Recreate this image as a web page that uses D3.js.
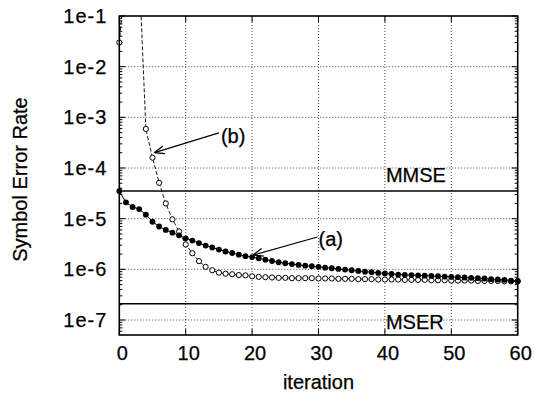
<!DOCTYPE html>
<meta charset="utf-8">
<style>
body { margin: 0; background: #fff; }
text { font-family: "Liberation Sans", Arial, Helvetica, sans-serif; fill: #000; stroke: #000; stroke-width: 0.25px; }
.grid line { stroke: #333; stroke-width: 0.9; stroke-dasharray: 1,2; }
.tick-line { stroke: #000; stroke-width: 1; }
</style>
<svg width="534" height="400"></svg>
<script src="https://d3js.org/d3.v7.min.js"></script>
<script>

// ---- data ----
var xTicks = [0, 10, 20, 30, 40, 50, 60];
var yTicks = [1e-1, 1e-2, 1e-3, 1e-4, 1e-5, 1e-6, 1e-7];
var yTickLabels = ["1e-1", "1e-2", "1e-3", "1e-4", "1e-5", "1e-6", "1e-7"];

var mmseLevel = 3.5e-5;
var mserLevel = 2.1e-7;

// (a) filled circles, iterations 0..60
var serA = [
  3.5e-5, 2.1e-5, 1.7e-5, 1.55e-5, 1.2e-5, 8.7e-6, 7.0e-6, 6.0e-6, 5.3e-6, 4.7e-6,
  4.1e-6, 3.7e-6, 3.3e-6, 2.95e-6, 2.7e-6, 2.45e-6, 2.25e-6, 2.1e-6, 1.95e-6, 1.82e-6,
  1.75e-6, 1.65e-6, 1.55e-6, 1.46e-6, 1.38e-6, 1.32e-6, 1.27e-6, 1.22e-6, 1.18e-6, 1.15e-6,
  1.12e-6, 1.08e-6, 1.05e-6, 1.02e-6, 9.9e-7, 9.6e-7, 9.3e-7, 9.0e-7, 8.8e-7, 8.5e-7,
  8.3e-7, 8.1e-7, 7.9e-7, 7.8e-7, 7.7e-7, 7.6e-7, 7.5e-7, 7.4e-7, 7.3e-7, 7.2e-7,
  7.1e-7, 7.0e-7, 6.9e-7, 6.8e-7, 6.7e-7, 6.6e-7, 6.4e-7, 6.3e-7, 6.2e-7, 6.0e-7,
  5.9e-7
];

// (b) open circles, iterations 0..60 (1-3 run off the top)
var serB = [
  3.0e-2, 0.8, 0.8, 0.8, 5.9e-4, 1.6e-4, 5.1e-5, 2.0e-5, 9.7e-6, 5.6e-6,
  3.1e-6, 2.08e-6, 1.45e-6, 1.12e-6, 9.6e-7, 8.6e-7, 8.2e-7, 8.0e-7, 7.7e-7, 7.6e-7,
  7.3e-7, 7.1e-7, 7.0e-7, 6.9e-7, 6.8e-7, 6.8e-7, 6.7e-7, 6.7e-7, 6.7e-7, 6.7e-7,
  6.6e-7, 6.6e-7, 6.6e-7, 6.5e-7, 6.5e-7, 6.5e-7, 6.4e-7, 6.4e-7, 6.4e-7, 6.3e-7,
  6.3e-7, 6.3e-7, 6.3e-7, 6.2e-7, 6.2e-7, 6.2e-7, 6.2e-7, 6.1e-7, 6.1e-7, 6.1e-7,
  6.0e-7, 6.0e-7, 6.0e-7, 6.0e-7, 5.9e-7, 5.9e-7, 5.9e-7, 5.9e-7, 5.8e-7, 5.8e-7,
  5.8e-7
];

// ---- layout ----
var svg = d3.select("svg"),
    margin = {top: 16, right: 16.3, bottom: 65, left: 119.3},
    width = +svg.attr("width") - margin.left - margin.right,
    height = +svg.attr("height") - margin.top - margin.bottom;

var g = svg.append("g")
    .attr("transform", "translate(" + margin.left + "," + margin.top + ")");

var x = d3.scaleLinear().domain([0, 60]).range([0, width]);
var y = d3.scaleLog().domain([5.06e-8, 1e-1]).range([height, 0]);

svg.append("defs").append("clipPath")
    .attr("id", "plot")
  .append("rect")
    .attr("x", -4)
    .attr("width", width + 8)
    .attr("height", height);

// arrow head (open V)
svg.select("defs").append("marker")
    .attr("id", "arrow")
    .attr("viewBox", "0 0 10 10")
    .attr("refX", 10)
    .attr("refY", 5)
    .attr("markerWidth", 10)
    .attr("markerHeight", 10)
    .attr("markerUnits", "userSpaceOnUse")
    .attr("orient", "auto")
  .append("path")
    .attr("d", "M0,1 L10,5 L0,9")
    .attr("fill", "none")
    .attr("stroke", "#000")
    .attr("stroke-width", 1.2);

// grid
var grid = g.append("g").attr("class", "grid");
grid.selectAll(".h")
    .data(yTicks.slice(1))
  .enter().append("line")
    .attr("x1", 0).attr("x2", width)
    .attr("y1", function(d) { return y(d); })
    .attr("y2", function(d) { return y(d); });
grid.selectAll(".v")
    .data(xTicks.slice(1, -1))
  .enter().append("line")
    .attr("y1", 0).attr("y2", height)
    .attr("x1", function(d) { return x(d); })
    .attr("x2", function(d) { return x(d); });

// ticks on all four sides (inward)
var minor = [];
yTicks.concat([1e-8]).forEach(function(p) {
  for (var k = 2; k <= 9; k++) {
    var v = k * p;
    if (v > y.domain()[0] && v < y.domain()[1]) minor.push(v);
  }
});

var ticks = g.append("g");
[0, width].forEach(function(edge) {
  var dir = edge === 0 ? 1 : -1;
  ticks.selectAll(null)
      .data(yTicks)
    .enter().append("line")
      .attr("class", "tick-line")
      .attr("x1", edge).attr("x2", edge + dir * 6)
      .attr("y1", function(d) { return y(d); })
      .attr("y2", function(d) { return y(d); });
  ticks.selectAll(null)
      .data(minor)
    .enter().append("line")
      .attr("class", "tick-line")
      .attr("x1", edge).attr("x2", edge + dir * 3)
      .attr("y1", function(d) { return y(d); })
      .attr("y2", function(d) { return y(d); });
});
[0, height].forEach(function(edge) {
  var dir = edge === 0 ? 1 : -1;
  ticks.selectAll(null)
      .data(xTicks)
    .enter().append("line")
      .attr("class", "tick-line")
      .attr("y1", edge).attr("y2", edge + dir * 6)
      .attr("x1", function(d) { return x(d); })
      .attr("x2", function(d) { return x(d); });
});

// MMSE / MSER reference lines
g.selectAll(".ref")
    .data([mmseLevel, mserLevel])
  .enter().append("line")
    .attr("x1", 0).attr("x2", width)
    .attr("y1", function(d) { return y(d); })
    .attr("y2", function(d) { return y(d); })
    .attr("stroke", "#000")
    .attr("stroke-width", 1.5);

// curves
var plot = g.append("g").attr("clip-path", "url(#plot)");

var line = d3.line()
    .x(function(d, i) { return x(i); })
    .y(function(d) { return y(d); });

plot.append("path")
    .datum(serB)
    .attr("d", line)
    .attr("fill", "none")
    .attr("stroke", "#000")
    .attr("stroke-width", 0.9)
    .attr("stroke-dasharray", "4,2");

plot.append("path")
    .datum(serA)
    .attr("d", line)
    .attr("fill", "none")
    .attr("stroke", "#000")
    .attr("stroke-width", 1);

plot.selectAll(".b")
    .data(serB)
  .enter().append("circle")
    .attr("cx", function(d, i) { return x(i); })
    .attr("cy", function(d) { return y(d); })
    .attr("r", 2.6)
    .attr("fill", "#fff")
    .attr("stroke", "#000")
    .attr("stroke-width", 1);

plot.selectAll(".a")
    .data(serA)
  .enter().append("circle")
    .attr("cx", function(d, i) { return x(i); })
    .attr("cy", function(d) { return y(d); })
    .attr("r", 2.9)
    .attr("fill", "#000");

// frame
g.append("rect")
    .attr("width", width)
    .attr("height", height)
    .attr("fill", "none")
    .attr("stroke", "#000")
    .attr("stroke-width", 1.6);

// tick labels
g.selectAll(".ylab")
    .data(yTicks)
  .enter().append("text")
    .attr("x", -12)
    .attr("y", function(d) { return y(d) + 7; })
    .attr("text-anchor", "end")
    .style("font-size", "20px")
    .style("letter-spacing", "1px")
    .text(function(d, i) { return yTickLabels[i]; });

g.selectAll(".xlab")
    .data(xTicks)
  .enter().append("text")
    .attr("x", function(d) { return x(d) + 3; })
    .attr("y", height + 25)
    .attr("text-anchor", "middle")
    .style("font-size", "20px")
    .text(function(d) { return d; });

// axis titles
g.append("text")
    .attr("x", width / 2)
    .attr("y", height + 54)
    .attr("text-anchor", "middle")
    .style("font-size", "20px")
    .text("iteration");

g.append("text")
    .attr("transform", "translate(" + (-92) + "," + (height / 2 + 4) + ") rotate(-90)")
    .attr("text-anchor", "middle")
    .style("font-size", "20px")
    .text("Symbol Error Rate");

// annotations
g.append("text")
    .attr("x", x(40) + 1)
    .attr("y", y(mmseLevel) - 9)
    .style("font-size", "20px")
    .text("MMSE");

g.append("text")
    .attr("x", x(40) + 1)
    .attr("y", y(mserLevel) + 25)
    .style("font-size", "20px")
    .text("MSER");

g.append("line")
    .attr("x1", x(15)).attr("y1", y(serB[4]) + 4)
    .attr("x2", x(5) + 2).attr("y2", y(serB[5]) - 5)
    .attr("stroke", "#000")
    .attr("stroke-width", 1.2)
    .attr("marker-end", "url(#arrow)");

g.append("text")
    .attr("x", x(15) + 2)
    .attr("y", y(serB[4]) + 14)
    .style("font-size", "20px")
    .text("(b)");

g.append("line")
    .attr("x1", x(30) - 1).attr("y1", y(serA[20]) - 20)
    .attr("x2", x(20) + 1).attr("y2", y(serA[20]) - 2)
    .attr("stroke", "#000")
    .attr("stroke-width", 1.2)
    .attr("marker-end", "url(#arrow)");

g.append("text")
    .attr("x", x(30))
    .attr("y", y(serA[20]) - 11)
    .style("font-size", "20px")
    .text("(a)");

</script>
